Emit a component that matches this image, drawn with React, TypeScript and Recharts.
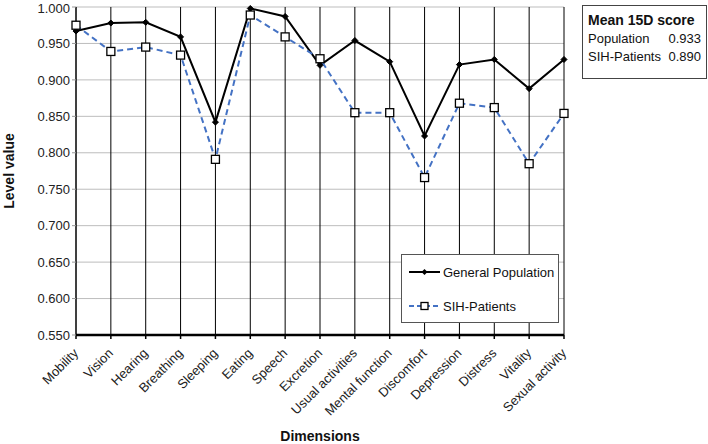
import React from 'react';
import { LineChart, Line, XAxis, YAxis, CartesianGrid } from 'recharts';

const categories = ['Mobility', 'Vision', 'Hearing', 'Breathing', 'Sleeping', 'Eating', 'Speech', 'Excretion', 'Usual activities', 'Mental function', 'Discomfort', 'Depression', 'Distress', 'Vitality', 'Sexual activity'];
const generalPopulation = [0.967, 0.978, 0.979, 0.959, 0.842, 0.998, 0.987, 0.920, 0.954, 0.925, 0.823, 0.921, 0.928, 0.888, 0.928];
const sihPatients = [0.975, 0.939, 0.945, 0.934, 0.791, 0.989, 0.959, 0.929, 0.855, 0.855, 0.766, 0.868, 0.862, 0.785, 0.854];
const yTicks = [0.55, 0.6, 0.65, 0.7, 0.75, 0.8, 0.85, 0.9, 0.95, 1.0];
const meanRows = [
  { label: 'Population', value: '0.933' },
  { label: 'SIH-Patients', value: '0.890' },
];

const data = categories.map((c, i) => ({ name: c, pop: generalPopulation[i], sih: sihPatients[i] }));

const FONT = '"Liberation Sans", Arial, sans-serif';

const XTick = (props: any) => {
  const { x, y, payload } = props;
  return (
    <g transform={`translate(${x + 3},${y + 13})`}>
      <text transform="rotate(-45)" textAnchor="end" fontSize={13} fill="#222" fontFamily={FONT}>
        {payload.value}
      </text>
    </g>
  );
};

const Diamond = (props: any) => {
  const { cx, cy, index } = props;
  if (cx == null || cy == null) return <g key={index} />;
  const r = 3;
  return <path key={index} d={`M${cx},${cy - r}L${cx + r},${cy}L${cx},${cy + r}L${cx - r},${cy}Z`} fill="#000" stroke="#000" />;
};

const Square = (props: any) => {
  const { cx, cy, index } = props;
  if (cx == null || cy == null) return <g key={index} />;
  const s = 4;
  return <rect key={index} x={cx - s} y={cy - s} width={2 * s} height={2 * s} fill="#fff" stroke="#000" strokeWidth={1.3} />;
};

const LegendBox = () => (
  <div style={{ position: 'absolute', left: 401, top: 254, width: 158, height: 69, fontFamily: FONT, fontSize: 13, color: '#111', boxSizing: 'border-box', border: '1px solid #555', background: '#fff', padding: '0 0 0 7px' }}>
    <div style={{ display: 'flex', alignItems: 'center', height: 34 }}>
      <svg width={32} height={10}>
        <line x1={0} y1={5} x2={31} y2={5} stroke="#000" strokeWidth={2} />
        <path d="M15.5,2L18.5,5L15.5,8L12.5,5Z" fill="#000" />
      </svg>
      <span style={{ marginLeft: 2 }}>General Population</span>
    </div>
    <div style={{ display: 'flex', alignItems: 'center', height: 34 }}>
      <svg width={32} height={10}>
        <line x1={0} y1={5} x2={31} y2={5} stroke="#4472C4" strokeWidth={2} strokeDasharray="5 3" />
        <rect x={12} y={1.5} width={7} height={7} fill="#fff" stroke="#000" strokeWidth={1.3} />
      </svg>
      <span style={{ marginLeft: 2 }}>SIH-Patients</span>
    </div>
  </div>
);

export default function App() {
  return (
    <div style={{ position: 'absolute', left: 0, top: 0, width: 708, height: 444, background: '#fff' }}>
      <LineChart width={708} height={444} data={data} margin={{ top: 7, right: 144, bottom: 19, left: 16 }}>
        <CartesianGrid vertical={false} stroke="#bdbdbd" strokeWidth={1} />
        <CartesianGrid horizontal={false} stroke="#000" strokeWidth={1} />
        <XAxis
          dataKey="name"
          interval={0}
          height={90}
          tick={<XTick />}
          tickSize={4}
          tickLine={{ stroke: '#000', strokeWidth: 1.5 }}
          axisLine={{ stroke: '#000', strokeWidth: 2.5 }}
          label={{ value: 'Dimensions', position: 'insideBottom', offset: -16, fontFamily: FONT, fontSize: 14, fontWeight: 'bold', fill: '#111' }}
        />
        <YAxis
          domain={[0.55, 1.0]}
          ticks={yTicks}
          width={60}
          tickFormatter={(v: number) => v.toFixed(3)}
          tick={{ fontFamily: FONT, fontSize: 13, fill: '#222' }}
          tickSize={4}
          tickLine={{ stroke: '#999' }}
          axisLine={false}
          label={{ value: 'Level value', angle: -90, position: 'insideLeft', offset: -7, fontFamily: FONT, fontSize: 14, fontWeight: 'bold', fill: '#111', style: { textAnchor: 'middle' } }}
        />
        <Line dataKey="pop" name="General Population" stroke="#000" strokeWidth={2} dot={<Diamond />} activeDot={false} isAnimationActive={false} />
        <Line dataKey="sih" name="SIH-Patients" stroke="#4472C4" strokeWidth={2} strokeDasharray="6 4" dot={<Square />} activeDot={false} isAnimationActive={false} />
      </LineChart>
      <LegendBox />
      <div style={{ position: 'absolute', left: 582, top: 5, width: 125, height: 74, boxSizing: 'border-box', border: '1px solid #444', background: '#fff', fontFamily: FONT, fontSize: 13, color: '#111', padding: '5px 5px 0 5px', lineHeight: '18.5px' }}>
        <div style={{ fontWeight: 'bold', fontSize: 14 }}>Mean 15D score</div>
        {meanRows.map((r) => (
          <div key={r.label} style={{ display: 'flex', justifyContent: 'space-between' }}>
            <span>{r.label}</span>
            <span>{r.value}</span>
          </div>
        ))}
      </div>
    </div>
  );
}
